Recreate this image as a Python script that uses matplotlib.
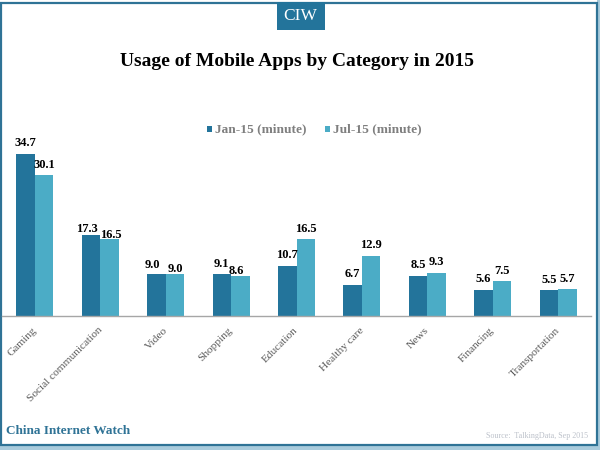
import numpy as np
import matplotlib
matplotlib.use('Agg')
import matplotlib.pyplot as plt
from matplotlib.patches import Rectangle
from matplotlib.transforms import ScaledTranslation

categories = ['Gaming', 'Social communication', 'Video', 'Shopping', 'Education',
              'Healthy care', 'News', 'Financing', 'Transportation']
jan15 = [34.7, 17.3, 9.0, 9.1, 10.7, 6.7, 8.5, 5.6, 5.5]
jul15 = [30.1, 16.5, 9.0, 8.6, 16.5, 12.9, 9.3, 7.5, 5.7]

# hand placed data labels, pixels from the top of each bar
jan_dx = [0, -4, -4, -1, 0, 0, 0, 0, 0]
jan_dy = [11, 6, 9, 10, 11, 11, 11, 11, 10]
jul_dx = [0, 1, 0, -4, 0, 0, 0, 0, 0]
jul_dy = [10, 4, 5, 5, 10, 11, 11, 10, 10]

dark = '#23749b'
light = '#4bacc6'
W, H = 600.0, 450.0

plt.rcParams['font.family'] = ['Liberation Serif', 'DejaVu Serif']

fig = plt.figure(figsize=(6, 4.5), dpi=100)
# axes placed in pixels: baseline at y=316, x from 2 to 591
ax = fig.add_axes([2.3/W, (H-316)/H, 588.5/W, 176/H])
ax.patch.set_visible(False)
x = np.arange(len(categories))
w = 0.283
ax.bar(x - w/2, jan15, w, color=dark)
ax.bar(x + w/2, jul15, w, color=light)
ax.set_xlim(-0.5, 8.5)
ax.set_ylim(0, 37.7)
for s in ['top', 'left', 'right']:
    ax.spines[s].set_visible(False)
ax.spines['bottom'].set_color('#a6a6a6')
ax.spines['bottom'].set_linewidth(1)
ax.set_yticks([])
ax.set_xticks(x)
ax.set_xticklabels(categories, rotation=45, ha='right', rotation_mode='anchor',
                   fontsize=8.2, color='#595959')
ax.tick_params(axis='x', length=0, pad=7)
# nudge the slanted labels a little to the left
shift = ScaledTranslation(-3/100.0, 0, fig.dpi_scale_trans)
for lab in ax.get_xticklabels():
    lab.set_transform(lab.get_transform() + shift)

for i in range(len(categories)):
    ax.annotate('%.1f' % jan15[i], (i - w/2, jan15[i]), xytext=(jan_dx[i], jan_dy[i]),
                textcoords='offset pixels', ha='center', va='center',
                fontsize=9, fontweight='bold', color='black')
    ax.annotate('%.1f' % jul15[i], (i + w/2, jul15[i]), xytext=(jul_dx[i], jul_dy[i]),
                textcoords='offset pixels', ha='center', va='center',
                fontsize=9, fontweight='bold', color='black')

# frame, header tab and texts go on the figure, in pixel coords
bg = fig.add_axes([0, 0, 1, 1], zorder=-1)
bg.set_xlim(0, W)
bg.set_ylim(H, 0)
bg.axis('off')
bg.add_patch(Rectangle((0, 446), 600, 4, color='#a9cbdc', lw=0))
bg.add_patch(Rectangle((597, 0), 3, 450, color='#a9cbdc', lw=0))
bg.add_patch(Rectangle((1, 2.5), 595.5, 442.5, fill=False, ec='#2f7396', lw=1.6))
bg.add_patch(Rectangle((277, 2), 48, 28, color=dark, lw=0))

top = fig.add_axes([0, 0, 1, 1], zorder=5)
top.set_xlim(0, W)
top.set_ylim(H, 0)
top.axis('off')
top.text(300, 16, 'CIW', color='white', fontsize=12.5, ha='center', va='center')
top.text(296.5, 61, 'Usage of Mobile Apps by Category in 2015', fontsize=14,
         fontweight='bold', ha='center', va='center', color='black')
top.add_patch(Rectangle((207, 126), 5, 6, color=dark, lw=0))
top.text(215, 129.5, 'Jan-15 (minute)', fontsize=9.6, fontweight='bold', color='#7f7f7f',
         ha='left', va='center')
top.add_patch(Rectangle((325, 126), 5, 6, color=light, lw=0))
top.text(333, 129.5, 'Jul-15 (minute)', fontsize=9.6, fontweight='bold', color='#7f7f7f',
         ha='left', va='center')
top.text(6, 430.5, 'China Internet Watch', fontsize=9.5, fontweight='bold', color='#2f7396',
         ha='left', va='center')
top.text(588, 436, 'Source:  TalkingData, Sep 2015', fontsize=5.8, color='#bcc1ca',
         ha='right', va='center')

fig.savefig('out.png', dpi=100)
